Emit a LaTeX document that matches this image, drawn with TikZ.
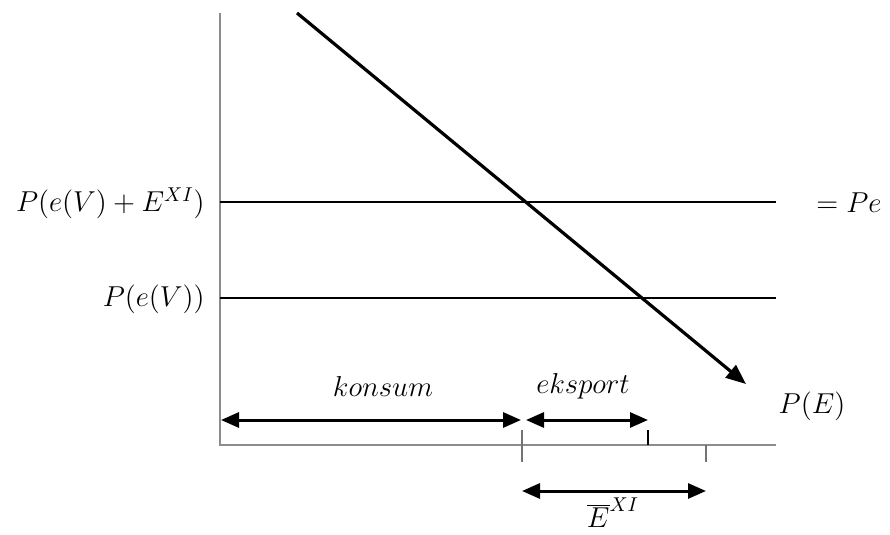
\documentclass[tikz,border=0pt]{standalone}
\usetikzlibrary{arrows.meta}
\begin{document}
\begin{tikzpicture}[x=0.5pt,y=-0.5pt,
  axis/.style={draw=black!45,line width=1.2pt},
  level/.style={draw=black,line width=0.85pt},
  tick/.style={draw=black!55,line width=0.6pt},
  dim/.style={draw=black,line width=1.5pt,{Triangle[length=9pt,width=7.5pt]}-{Triangle[length=9pt,width=7.5pt]}},
  curve/.style={draw=black,line width=1.6pt,-{Triangle[length=10pt,width=8pt]}},
  lbl/.style={inner sep=0pt,font=\fontsize{14.5}{16}\selectfont}]
\useasboundingbox (0,0) rectangle (890,535);
% axes
\coordinate (ytop) at (220,13);
\coordinate (orig) at (220,445);
\coordinate (xend) at (776,445);
\draw[axis] (ytop) -- (orig) -- (xend);
% levels
\coordinate (h1a) at (220,202); \coordinate (h1b) at (776,202);
\coordinate (h2a) at (220,298); \coordinate (h2b) at (776,298);
\draw[level] (h1a) -- (h1b);
\draw[level] (h2a) -- (h2b);
% demand line
\coordinate (ds) at (297,13); \coordinate (de) at (746,384);
\draw[curve] (ds) -- (de);
% ticks
\coordinate (t1a) at (522,430); \coordinate (t1b) at (522,462);
\coordinate (t2a) at (648,430); \coordinate (t2b) at (648,445);
\coordinate (t3a) at (706,445); \coordinate (t3b) at (706,462);
\draw[tick] (t1a) -- (t1b);
\draw[tick,draw=black] (t2a) -- (t2b);
\draw[tick] (t3a) -- (t3b);
% dimension arrows
\coordinate (k1) at (221,420); \coordinate (k2) at (521,420);
\coordinate (e1) at (526,420); \coordinate (e2) at (648,420);
\coordinate (x1) at (522,491); \coordinate (x2) at (706,491);
\draw[dim] (k1) -- (k2);
\draw[dim] (e1) -- (e2);
\draw[dim] (x1) -- (x2);
% labels
\node[lbl,anchor=east] (l1) at (205,203) {$P(e(V)+E^{XI})$};
\node[lbl,anchor=east] (l2) at (205,299) {$P(e(V))$};
\node[lbl] (l3) at (849,203) {$=Pe$};
\node[lbl] (l4) at (812,406) {$P(E)$};
\node[lbl] (l5) at (383,386) {$konsum$};
\node[lbl] (l6) at (583,386) {$eksport$};
\node[lbl,anchor=south] (l7) at (613,528) {$\overline{E}^{XI}$};
\end{tikzpicture}
\end{document}
